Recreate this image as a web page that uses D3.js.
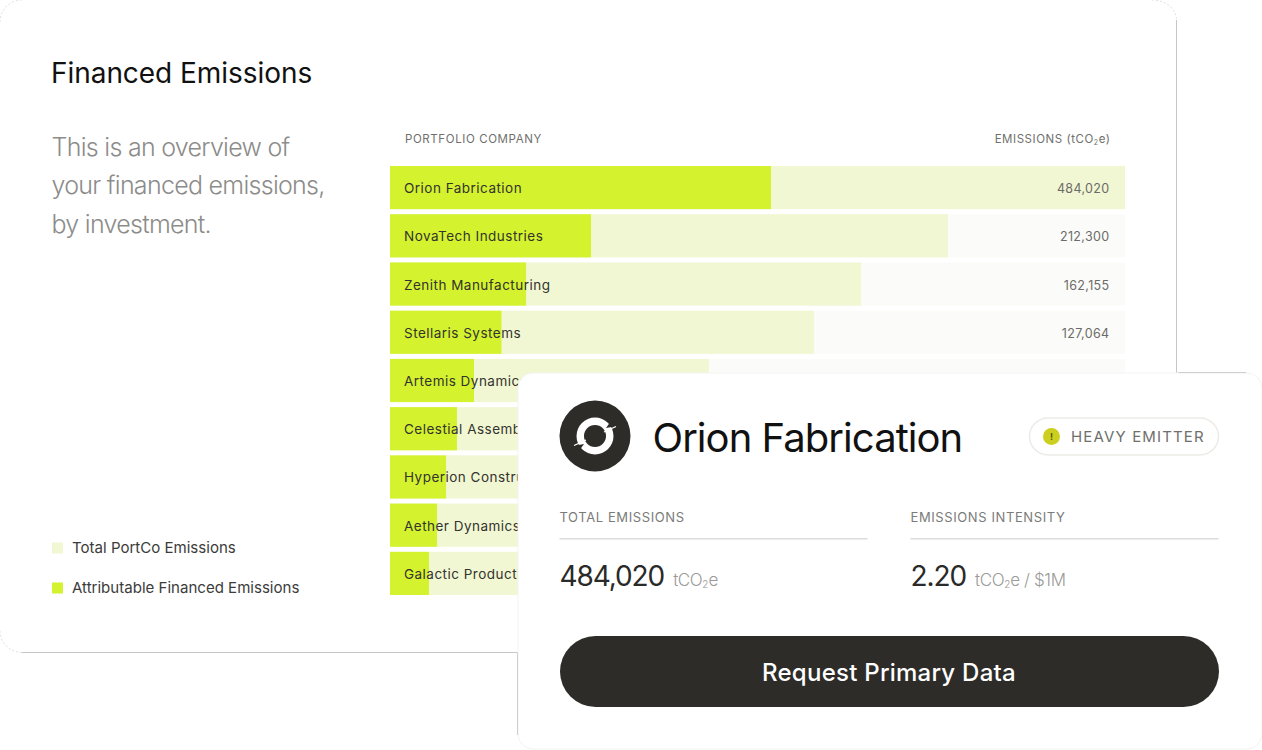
<!DOCTYPE html>
<html>
<head>
<meta charset="utf-8">
<script src="https://cdn.jsdelivr.net/npm/d3@7"></script>
<style>
  html, body { margin: 0; padding: 0; background: #fff; }
  svg { display: block; }
  text { font-family: Inter, "Noto Sans", sans-serif; }
</style>
</head>
<body>
<svg width="1262" height="750"></svg>
<script>
var companies = ['Orion Fabrication', 'NovaTech Industries', 'Zenith Manufacturing', 'Stellaris Systems',
  'Artemis Dynamics', 'Celestial Assembly', 'Hyperion Construction', 'Aether Dynamics', 'Galactic Production'];
var totalPortCo = [484020, 367500, 310200, 279200, 210100, 165000, 150000, 140000, 135000];
var attributable = [250900, 132400, 89600, 73400, 55300, 44100, 36900, 31000, 25700];
var emissionLabels = ['484,020', '212,300', '162,155', '127,064'];
var introLines = ['This is an overview of', 'your financed emissions,', 'by investment.'];
var legendLabels = ['Total PortCo Emissions', 'Attributable Financed Emissions'];

var lime = '#d4f22e', paleLime = '#f2f7d3', rowBg = '#fbfbf9', ink = '#2d2c28';

var svg = d3.select('svg');

// back card: straight edges are solid, the rounded corners are faint
svg.append('path')
  .attr('d', 'M1176.5,20 V652.5 H22')
  .attr('fill', 'none').attr('stroke', '#c6c6c6');
svg.append('path')
  .attr('d', 'M1152,0 A24,20 0 0 1 1176.5,20 M22,652.5 A22,22 0 0 1 0,630 M0,22 A22,22 0 0 1 22,0')
  .attr('fill', 'none').attr('stroke', '#dedede').attr('stroke-dasharray', '2 2');

svg.append('text').attr('x', 51).attr('y', 82.5)
  .attr('font-size', 28).attr('letter-spacing', -0.05).attr('fill', '#111').text('Financed Emissions');

svg.append('g').selectAll('text').data(introLines).enter().append('text')
  .attr('x', 51.5)
  .attr('y', function(d, i) { return 155.5 + i * 38.5; })
  .attr('font-size', 25).attr('font-weight', 300).attr('letter-spacing', -0.72).attr('fill', '#8c8c8a')
  .text(function(d) { return d; });

// rows
var x = d3.scaleLinear().domain([0, d3.max(totalPortCo)]).range([390, 1125]);
var y = d3.scaleBand().domain(companies).range([166, 595]).paddingInner(0.105);

svg.append('text').attr('x', 405).attr('y', 143)
  .attr('font-size', 11.5).attr('letter-spacing', 0.6).attr('fill', '#6f6f6d').text('PORTFOLIO COMPANY');
var unitHead = svg.append('text').attr('x', 1110.5).attr('y', 143).attr('text-anchor', 'end')
  .attr('font-size', 11.5).attr('letter-spacing', 0.55).attr('fill', '#6f6f6d');
unitHead.append('tspan').text('EMISSIONS (tCO');
unitHead.append('tspan').attr('font-size', 7).attr('dy', 2).text('2');
unitHead.append('tspan').attr('dy', -2).text('e)');

var rows = svg.append('g').selectAll('g').data(companies).enter().append('g')
  .attr('transform', function(d) { return 'translate(0,' + y(d) + ')'; });

rows.append('rect').attr('x', x(0)).attr('width', x.range()[1] - x(0))
  .attr('height', y.bandwidth()).attr('fill', rowBg);
rows.append('rect').attr('x', x(0))
  .attr('width', function(d, i) { return x(totalPortCo[i]) - x(0); })
  .attr('height', y.bandwidth()).attr('fill', paleLime);
rows.append('rect').attr('x', x(0))
  .attr('width', function(d, i) { return x(attributable[i]) - x(0); })
  .attr('height', y.bandwidth()).attr('fill', lime);
rows.append('text').attr('x', 404).attr('y', y.bandwidth() / 2 + 5.5)
  .attr('font-size', 13.5).attr('letter-spacing', 0.48).attr('fill', '#33332f')
  .text(function(d) { return d; });
rows.filter(function(d, i) { return i < emissionLabels.length; })
  .append('text').attr('x', 1109.5).attr('y', y.bandwidth() / 2 + 5.5).attr('text-anchor', 'end')
  .attr('font-size', 12.5).attr('letter-spacing', 0.35).attr('fill', '#6b6b69')
  .text(function(d, i) { return emissionLabels[i]; });

// legend
var legend = svg.append('g').selectAll('g').data(legendLabels).enter().append('g')
  .attr('transform', function(d, i) { return 'translate(52,' + (548 + i * 40) + ')'; });
legend.append('rect').attr('y', -5.5).attr('width', 11).attr('height', 11)
  .attr('fill', function(d, i) { return i ? lime : paleLime; });
legend.append('text').attr('x', 20).attr('y', 5).attr('font-size', 15.05).attr('fill', '#3c3c3a')
  .text(function(d) { return d; });

// front card
svg.append('rect')
  .attr('x', 518).attr('y', 373).attr('width', 744).attr('height', 376).attr('rx', 15)
  .attr('fill', '#fff').attr('stroke', '#f3f3f3');
svg.append('path')
  .attr('d', 'M517.5,653 V735 M1178,372.5 H1246')
  .attr('fill', 'none').attr('stroke', '#cfcfcf');

var logo = svg.append('g').attr('transform', 'translate(595,436)');
logo.append('circle').attr('r', 35.5).attr('fill', ink);
logo.append('circle').attr('r', 18.5).attr('fill', '#fff');
logo.append('circle').attr('r', 11).attr('fill', ink);
logo.append('path').attr('d', 'M11,-8 L22,-10 L16,-15 Z').attr('fill', ink);
logo.append('path').attr('d', 'M-11,8 L-22,10 L-16,15 Z').attr('fill', ink);
logo.append('path').attr('d', 'M9,-4 L21,-9.5 M-9,4 L-21,9.5').attr('stroke', '#fff').attr('stroke-width', 1.3);

svg.append('text').attr('x', 652.5).attr('y', 452)
  .attr('font-size', 40).attr('letter-spacing', -0.95).attr('fill', '#111').text('Orion Fabrication');

// badge
svg.append('rect').attr('x', 1029.5).attr('y', 418).attr('width', 189).attr('height', 37).attr('rx', 18.5)
  .attr('fill', '#fff').attr('stroke', '#ecebe8').attr('stroke-width', 1.5);
svg.append('circle').attr('cx', 1051.5).attr('cy', 436.5).attr('r', 8.5).attr('fill', '#cdcf1f');
svg.append('text').attr('x', 1051.5).attr('y', 440).attr('text-anchor', 'middle')
  .attr('font-size', 9).attr('font-weight', 700).attr('fill', '#55560f').text('!');
svg.append('text').attr('x', 1071).attr('y', 442)
  .attr('font-size', 15).attr('letter-spacing', 1.15).attr('fill', '#6f6f6b').text('HEAVY EMITTER');

// stats
var statX = [559.5, 910.5];
var statHeads = ['TOTAL EMISSIONS', 'EMISSIONS INTENSITY'];
var statValues = ['484,020', '2.20'];
var statUnitEnds = ['e', 'e / $1M'];
var stats = svg.append('g').selectAll('g').data(statHeads).enter().append('g')
  .attr('transform', function(d, i) { return 'translate(' + statX[i] + ',0)'; });
stats.append('text').attr('y', 522).attr('font-size', 13).attr('letter-spacing', 0.6).attr('fill', '#7b7b79')
  .text(function(d) { return d; });
stats.append('rect').attr('y', 538).attr('width', 308).attr('height', 1.5).attr('fill', '#dcdcdc');
var valueText = stats.append('text').attr('y', 586);
valueText.append('tspan').attr('font-size', 28).attr('letter-spacing', -1.1).attr('fill', '#2a2a28')
  .text(function(d, i) { return statValues[i]; });
valueText.append('tspan').attr('dx', 9).attr('font-size', 17).attr('font-weight', 300).attr('letter-spacing', -0.4).attr('fill', '#9a9a98').text('tCO');
valueText.append('tspan').attr('font-size', 10).attr('dy', 2).attr('font-weight', 300).attr('fill', '#9a9a98').text('2');
valueText.append('tspan').attr('dy', -2).attr('font-size', 17).attr('font-weight', 300).attr('letter-spacing', -0.4).attr('fill', '#9a9a98')
  .text(function(d, i) { return statUnitEnds[i]; });

// button
svg.append('rect').attr('x', 560).attr('y', 636).attr('width', 659).attr('height', 71).attr('rx', 35.5).attr('fill', ink);
svg.append('text').attr('x', 889).attr('y', 681).attr('text-anchor', 'middle')
  .attr('font-size', 24).attr('font-weight', 500).attr('letter-spacing', 0.25).attr('fill', '#fff').text('Request Primary Data');
</script>
</body>
</html>
